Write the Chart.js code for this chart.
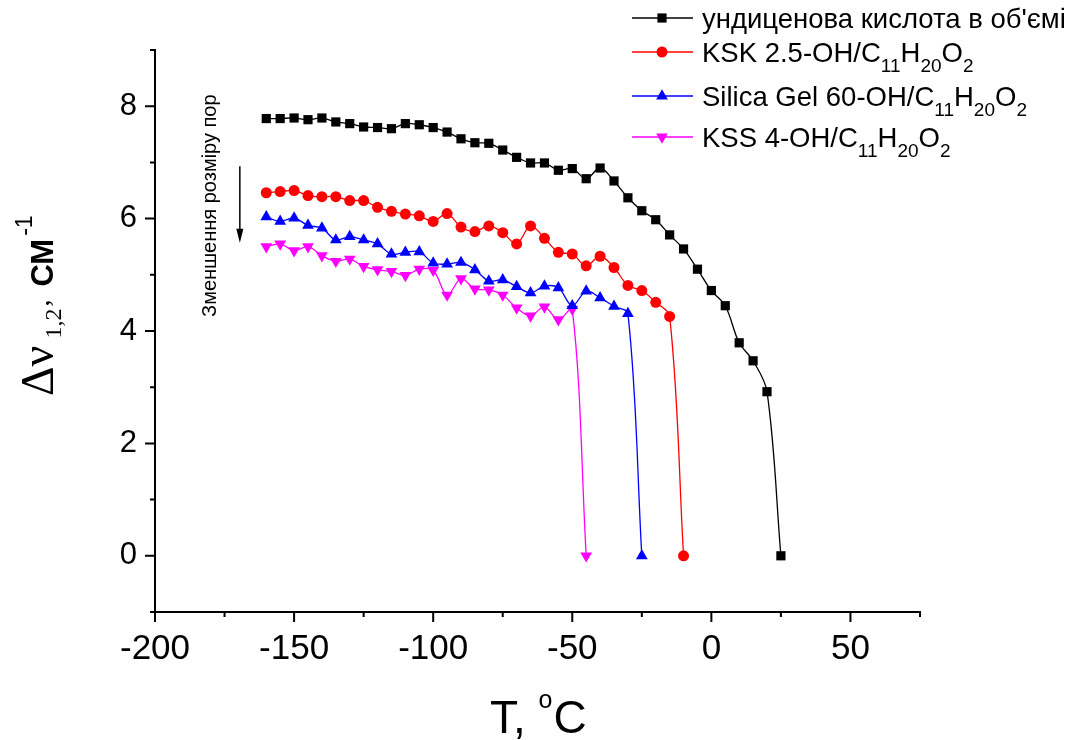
<!DOCTYPE html>
<html>
<head>
<meta charset="utf-8">
<script src="https://cdn.jsdelivr.net/npm/chart.js@4.4.1/dist/chart.umd.min.js"></script>
<style>
  body { margin: 0; background: #fff; }
  #wrap { width: 1076px; height: 740px; }
</style>
</head>
<body>
<div id="wrap"><canvas id="chart"></canvas></div>
<script>
// temperatures (°C) and linewidth difference (cm-1)
const bulkT = [-160, -155, -150, -145, -140, -135, -130, -125, -120, -115,
  -110, -105, -100, -95, -90, -85, -80, -75, -70, -65,
  -60, -55, -50, -45, -40, -35, -30, -25, -20, -15,
  -10, -5, 0, 5, 10, 15, 20, 25];
const bulkDv = [7.78, 7.78, 7.79, 7.76, 7.79, 7.72, 7.69, 7.63, 7.62, 7.60,
  7.69, 7.67, 7.62, 7.54, 7.42, 7.35, 7.34, 7.22, 7.09, 6.99,
  6.99, 6.86, 6.89, 6.71, 6.90, 6.67, 6.37, 6.14, 5.98, 5.71,
  5.46, 5.10, 4.72, 4.45, 3.79, 3.47, 2.92, 0];

const kskT = [-160, -155, -150, -145, -140, -135, -130, -125, -120, -115,
  -110, -105, -100, -95, -90, -85, -80, -75, -70, -65,
  -60, -55, -50, -45, -40, -35, -30, -25, -20, -15, -10];
const kskDv = [6.46, 6.48, 6.50, 6.41, 6.39, 6.39, 6.32, 6.32, 6.20, 6.13,
  6.08, 6.05, 5.95, 6.09, 5.85, 5.77, 5.87, 5.75, 5.55, 5.87,
  5.65, 5.40, 5.37, 5.16, 5.33, 5.13, 4.81, 4.72, 4.51, 4.26, 0];

const silicaT = [-160, -155, -150, -145, -140, -135, -130, -125, -120, -115,
  -110, -105, -100, -95, -90, -85, -80, -75, -70, -65,
  -60, -55, -50, -45, -40, -35, -30, -25];
const silicaDv = [6.03, 5.95, 6.01, 5.88, 5.83, 5.62, 5.68, 5.62, 5.55, 5.37,
  5.40, 5.41, 5.21, 5.19, 5.22, 5.09, 4.89, 4.91, 4.79, 4.68,
  4.80, 4.77, 4.45, 4.71, 4.59, 4.44, 4.31, 0];

const kssT = [-160, -155, -150, -145, -140, -135, -130, -125, -120, -115,
  -110, -105, -100, -95, -90, -85, -80, -75, -70, -65,
  -60, -55, -50, -45];
const kssDv = [5.50, 5.55, 5.43, 5.50, 5.34, 5.24, 5.28, 5.15, 5.09, 5.06,
  4.99, 5.10, 5.08, 4.64, 4.93, 4.75, 4.73, 4.64, 4.41, 4.27,
  4.43, 4.20, 4.39, 0];

const xTicks = [-200, -150, -100, -50, 0, 50];
const xMinorTicks = [-175, -125, -75, -25, 25, 75];
const yTicks = [0, 2, 4, 6, 8];
const yMinorTicks = [-1, 1, 3, 5, 7, 9];

// legend labels as [text, isSubscript] pieces
const legendLabels = [
  [["ундиценова кислота в об'ємі", 0]],
  [['KSK 2.5-OH/C', 0], ['11', 1], ['H', 0], ['20', 1], ['O', 0], ['2', 1]],
  [['Silica Gel 60-OH/C', 0], ['11', 1], ['H', 0], ['20', 1], ['O', 0], ['2', 1]],
  [['KSS 4-OH/C', 0], ['11', 1], ['H', 0], ['20', 1], ['O', 0], ['2', 1]]
];

const noteText = 'Зменшення розміру пор';
const notePos = { T: -178, dv: 6.23 };
const arrowPos = { T: -169.5, from: 6.93, to: 5.57 };

const SANS = '"Liberation Sans", Arial, sans-serif';
const SERIF = '"Liberation Serif", "Times New Roman", serif';

const toPts = (xs, ys) => xs.map((x, i) => ({ x: x, y: ys[i] }));

function makeSet(xs, ys, color, style, radius, rotation) {
  return {
    data: toPts(xs, ys),
    borderColor: color,
    backgroundColor: color,
    pointBackgroundColor: color,
    pointBorderColor: color,
    pointBorderWidth: 0,
    borderWidth: 1.3,
    pointStyle: style,
    pointRadius: radius,
    pointHoverRadius: radius,
    pointRotation: rotation,
    tension: 0.35
  };
}

// draws text pieces one after another on a baseline
function drawPieces(ctx, x, y, pieces) {
  pieces.forEach(p => {
    ctx.font = p.font;
    ctx.fillText(p.t, x, y + (p.dy || 0));
    x += ctx.measureText(p.t).width + (p.gap || 0);
  });
  return x;
}

const extrasPlugin = {
  id: 'extras',
  afterDraw(chart) {
    const { ctx, chartArea: a } = chart;
    const x = chart.scales.x, y = chart.scales.y;
    ctx.save();

    // tick marks
    ctx.strokeStyle = '#000';
    ctx.lineWidth = 2;
    ctx.beginPath();
    xTicks.forEach(v => { const p = x.getPixelForValue(v); ctx.moveTo(p, a.bottom); ctx.lineTo(p, a.bottom + 10); });
    xMinorTicks.forEach(v => { const p = x.getPixelForValue(v); ctx.moveTo(p, a.bottom); ctx.lineTo(p, a.bottom + 5); });
    yTicks.forEach(v => { const p = y.getPixelForValue(v); ctx.moveTo(a.left, p); ctx.lineTo(a.left - 10, p); });
    yMinorTicks.forEach(v => { const p = y.getPixelForValue(v); ctx.moveTo(a.left, p); ctx.lineTo(a.left - 5, p); });
    ctx.stroke();

    ctx.fillStyle = '#000';
    ctx.textAlign = 'left';
    ctx.textBaseline = 'alphabetic';

    // x title
    drawPieces(ctx, 490, 733, [
      { t: 'T, ', font: '46px ' + SANS },
      { t: 'o', font: '25px ' + SANS, dy: -25, gap: 1 },
      { t: 'C', font: '46px ' + SANS }
    ]);

    // y title, rotated
    ctx.save();
    ctx.translate(53, 396);
    ctx.rotate(-Math.PI / 2);
    drawPieces(ctx, 0, 0, [
      { t: 'Δν', font: '46px ' + SERIF, gap: 7 },
      { t: '1,2', font: '24px ' + SERIF, dy: 8, gap: 2 },
      { t: ', ', font: '28px ' + SERIF, dy: -4, gap: 6 },
      { t: 'СМ', font: 'bold 31px ' + SANS, gap: 3 },
      { t: '-1', font: '23px ' + SANS, dy: -21 }
    ]);
    ctx.restore();

    // annotation text and arrow
    ctx.save();
    ctx.translate(x.getPixelForValue(notePos.T), y.getPixelForValue(notePos.dv));
    ctx.rotate(-Math.PI / 2);
    ctx.textAlign = 'center';
    ctx.font = '20px ' + SANS;
    ctx.fillText(noteText, 0, 0);
    ctx.restore();

    const ax = x.getPixelForValue(arrowPos.T);
    const ay0 = y.getPixelForValue(arrowPos.from);
    const ay1 = y.getPixelForValue(arrowPos.to);
    ctx.lineWidth = 1.5;
    ctx.beginPath();
    ctx.moveTo(ax, ay0);
    ctx.lineTo(ax, ay1 - 12);
    ctx.stroke();
    ctx.beginPath();
    ctx.moveTo(ax - 3.5, ay1 - 14);
    ctx.lineTo(ax + 3.5, ay1 - 14);
    ctx.lineTo(ax, ay1);
    ctx.closePath();
    ctx.fill();

    // legend
    const rowY = [18, 52, 96, 137];
    chart.data.datasets.forEach((ds, i) => {
      const ly = rowY[i];
      ctx.strokeStyle = ds.borderColor;
      ctx.lineWidth = 1.3;
      ctx.beginPath();
      ctx.moveTo(632, ly);
      ctx.lineTo(693, ly);
      ctx.stroke();
      ctx.fillStyle = ds.borderColor;
      Chart.helpers.drawPoint(ctx, {
        pointStyle: ds.pointStyle,
        radius: ds.pointRadius,
        rotation: ds.pointRotation,
        borderWidth: 0
      }, 662, ly);
      ctx.fillStyle = '#000';
      drawPieces(ctx, 702, ly + 10, legendLabels[i].map(([t, sub]) =>
        sub ? { t: t, font: '19px ' + SANS, dy: 10 } : { t: t, font: '27.5px ' + SANS }));
    });

    ctx.restore();
  }
};

new Chart(document.getElementById('chart'), {
  type: 'line',
  data: {
    datasets: [
      makeSet(bulkT, bulkDv, '#000000', 'rect', 6.5, 0),
      makeSet(kskT, kskDv, '#ff0000', 'circle', 5.5, 0),
      makeSet(silicaT, silicaDv, '#0000ff', 'triangle', 6.8, 0),
      makeSet(kssT, kssDv, '#ff00ff', 'triangle', 6.8, 180)
    ]
  },
  options: {
    responsive: true,
    maintainAspectRatio: false,
    animation: false,
    layout: { padding: { top: 50, right: 156, left: 0, bottom: 0 } },
    plugins: {
      legend: { display: false },
      tooltip: { enabled: false }
    },
    scales: {
      x: {
        type: 'linear',
        min: -200,
        max: 75,
        afterBuildTicks: s => { s.ticks = xTicks.map(v => ({ value: v })); },
        afterFit: s => { s.height = 128; },
        ticks: { color: '#000', font: { size: 35, family: SANS }, padding: 16, maxRotation: 0, autoSkip: false },
        grid: { display: false, drawTicks: false },
        border: { display: true, color: '#000', width: 2 }
      },
      y: {
        type: 'linear',
        min: -1,
        max: 9,
        afterBuildTicks: s => { s.ticks = yTicks.map(v => ({ value: v })); },
        afterFit: s => { s.width = 155; },
        ticks: { color: '#000', font: { size: 31, family: SANS }, padding: 18 },
        grid: { display: false, drawTicks: false },
        border: { display: true, color: '#000', width: 2 }
      }
    }
  },
  plugins: [extrasPlugin]
});
</script>
</body>
</html>
